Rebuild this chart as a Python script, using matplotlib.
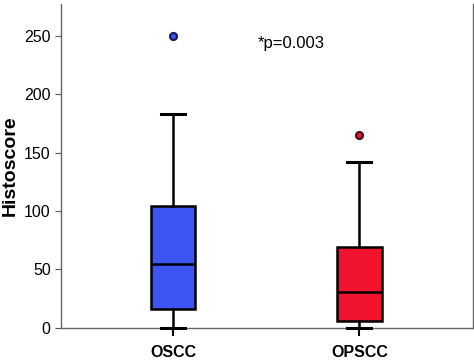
import matplotlib
matplotlib.use("Agg")
import matplotlib.pyplot as plt

plt.rcParams['font.family'] = ['Liberation Sans', 'DejaVu Sans']

# box statistics
groups = ['OSCC', 'OPSCC']
q1 = [16, 6]
med = [55, 31]
q3 = [104, 69]
whislo = [0, 0]
whishi = [183, 142]
fliers = [[250], [165]]
colors = ['#3d55f2', '#f2132e']
flier_edges = ['#1a1a5a', '#4a1020']

stats = []
for i, g in enumerate(groups):
    stats.append({'label': g, 'q1': q1[i], 'med': med[i], 'q3': q3[i],
                  'whislo': whislo[i], 'whishi': whishi[i], 'fliers': fliers[i]})

fig, ax = plt.subplots(figsize=(4.74, 3.6), dpi=100)
fig.subplots_adjust(left=0.129, right=0.998, top=0.989, bottom=0.089)

bp = ax.bxp(stats, positions=[1, 2], widths=0.24, patch_artist=True,
            showfliers=True,
            boxprops=dict(linewidth=1.8, edgecolor='black'),
            medianprops=dict(color='black', linewidth=1.8),
            whiskerprops=dict(color='black', linewidth=1.8),
            capprops=dict(color='black', linewidth=2.2),
            capwidths=0.13)
for patch, c in zip(bp['boxes'], colors):
    patch.set_facecolor(c)
for fl, c, e in zip(bp['fliers'], colors, flier_edges):
    fl.set(marker='o', markersize=5, markerfacecolor=c, markeredgecolor=e,
           markeredgewidth=1.6)
for key in ['caps', 'whiskers', 'boxes', 'medians']:
    for art in bp[key]:
        art.set_clip_on(False)
        art.set_zorder(4)

ax.set_xlim(0.4, 2.61)
ax.set_ylim(0, 277)
ax.set_yticks([0, 50, 100, 150, 200, 250])
ax.set_xticks([1, 2])
ax.set_xticklabels(groups, fontweight='bold', fontsize=11.5)
ax.tick_params(axis='y', labelsize=11.5, length=4, color='#555555')
ax.tick_params(axis='x', length=6, width=1.5, color='black', pad=6)
ax.set_ylabel('Histoscore', fontweight='bold', fontsize=14)

for s in ['left', 'bottom', 'right']:
    ax.spines[s].set_color('#666666')
    ax.spines[s].set_linewidth(1.0)
ax.spines['top'].set_visible(False)

ax.text(1.457, 243, '*p=0.003', fontsize=12, va='center', ha='left')

fig.savefig('out.png', dpi=100)
